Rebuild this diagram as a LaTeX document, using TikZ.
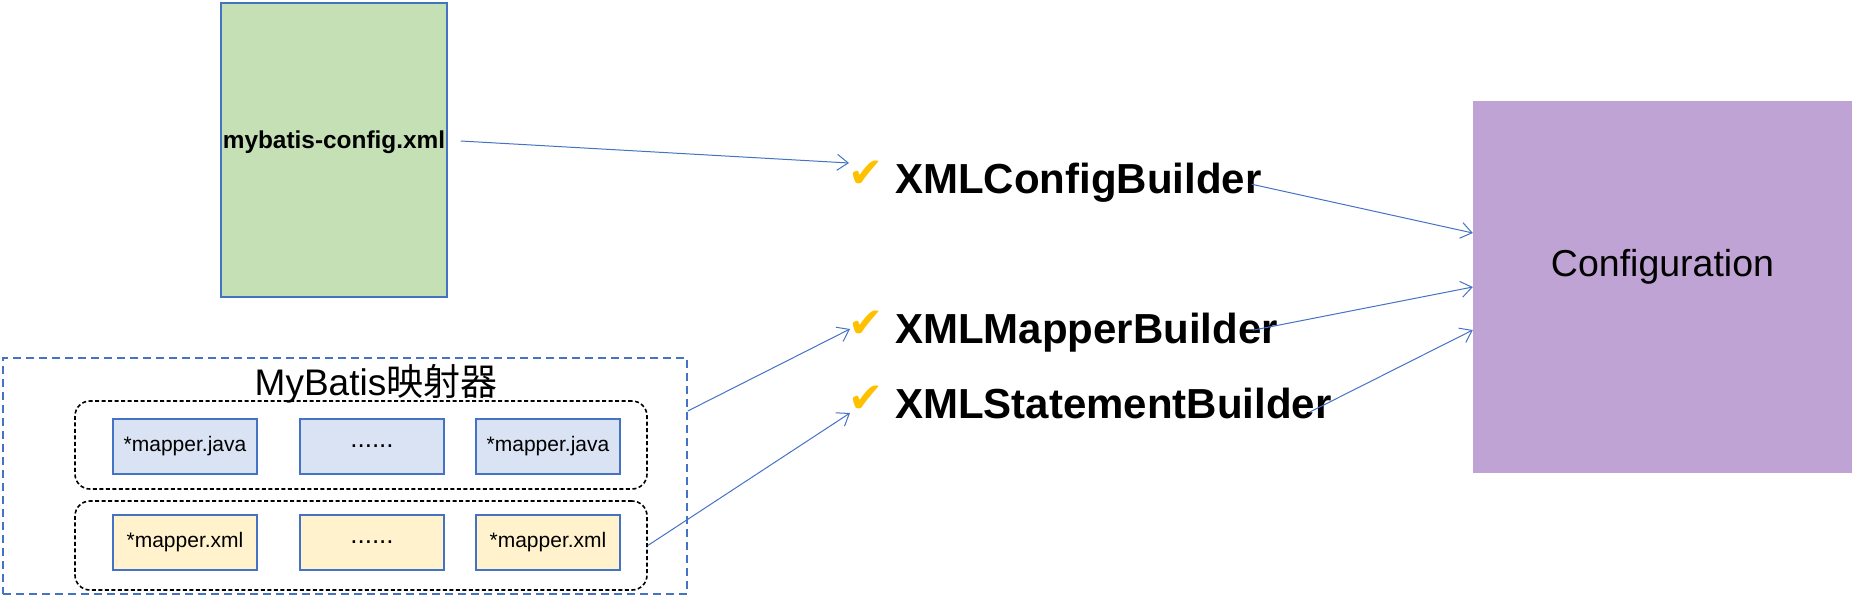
\documentclass[tikz,border=0pt]{standalone}
\usepackage{fontspec}
\setmainfont{Liberation Sans}
\newfontfamily\cjkfont{Noto Sans CJK SC}
\newfontfamily\symfont{DejaVu Sans}
\usepackage{xcolor}
\usepackage{tikz}
\usetikzlibrary{arrows.meta, positioning, fit, calc}
\definecolor{linkblue}{RGB}{68,114,196}
\definecolor{configgreen}{RGB}{197,224,180}
\definecolor{javablue}{RGB}{218,227,243}
\definecolor{xmlyellow}{RGB}{255,242,204}
\definecolor{confpurple}{RGB}{191,163,213}
\definecolor{checkgold}{RGB}{255,192,0}
\tikzset{
  filebox/.style={
    rectangle, draw=linkblue, line width=1.5pt, inner sep=0pt,
    minimum width=144pt, minimum height=55pt, font=\fontsize{21}{25}\selectfont
  },
  javafile/.style={filebox, fill=javablue},
  xmlfile/.style={filebox, fill=xmlyellow},
  dots/.style={font=\fontsize{26}{30}\selectfont},
  groupbox/.style={
    rectangle, rounded corners=15pt, draw=black, line width=1.6pt,
    dash pattern=on 4pt off 2.5pt, minimum width=572pt, minimum height=88pt
  },
  builder/.style={
    anchor=base west, inner sep=0pt, font=\fontsize{42}{50}\selectfont\bfseries
  },
  tick/.style={
    inner sep=0pt, text=checkgold, font=\symfont\fontsize{42}{48}\selectfont
  },
  link/.style={-{Straight Barb[length=11pt, width=16pt]}, line width=1pt, color=linkblue}
}
\begin{document}
\begin{tikzpicture}[x=1pt, y=-1pt]
  \useasboundingbox (0,0) rectangle (1852,595);

  % Config file
  \node[rectangle, draw=linkblue, line width=1.5pt, fill=configgreen,
    minimum width=226pt, minimum height=294pt, inner sep=0pt,
    font=\fontsize{24.4}{29}\selectfont\bfseries, text depth=20pt]
    (cfgfile) at (334,150) {mybatis-config.xml};

  % Configuration
  \node[rectangle, fill=confpurple, minimum width=379pt, minimum height=372pt,
    inner sep=0pt, font=\fontsize{37.5}{45}\selectfont,
    text height=27pt, text depth=49pt]
    (conf) at (1662.5,287) {Configuration};

  % Builders
  \node[tick] (ckConfig) at (866,174) {✔};
  \node[tick] (ckMapper) at (866,324) {✔};
  \node[tick] (ckStmt)   at (866,399) {✔};
  \node[builder] (bConfig) at (895,193) {XMLConfigBuilder};
  \node[builder] (bMapper) at (895,343) {XMLMapperBuilder};
  \node[builder] (bStmt)   at (895,418) {XMLStatementBuilder};

  % Mappers
  \node[rectangle, draw=linkblue, line width=1.5pt, dash pattern=on 8pt off 5pt,
    minimum width=684pt, minimum height=236pt, inner sep=0pt]
    (mappers) at (345,476) {};
  \node[anchor=base, inner sep=0pt, font=\fontsize{37}{44}\selectfont]
    (mapTitle) at (376,395) {MyBatis{\cjkfont 映射器}};
  \node[groupbox] (javaGroup) at (361,445) {};
  \node[groupbox, minimum height=89pt] (xmlGroup) at (361,545.5) {};

  \node[javafile] (java1) at (185,446.5) {*mapper.java};
  \node[javafile, dots] (java2) at (372,446.5) {......};
  \node[javafile] (java3) at (548,446.5) {*mapper.java};
  \node[xmlfile]  (xml1)  at (185,542.5) {*mapper.xml};
  \node[xmlfile, dots]  (xml2)  at (372,542.5) {......};
  \node[xmlfile]  (xml3)  at (548,542.5) {*mapper.xml};

  % Links
  \draw[link] ([xshift=13pt,yshift=9pt]cfgfile.east) -- ([xshift=-17pt,yshift=11pt]ckConfig.center);
  \draw[link] ([yshift=65pt]mappers.east) -- ([xshift=-16pt,yshift=-5pt]ckMapper.center);
  \draw[link] (xmlGroup.east) -- ([xshift=-16pt,yshift=-14pt]ckStmt.center);
  \draw[link] ([xshift=-10pt,yshift=-2pt]bConfig.east) -- ([yshift=54pt]conf.west);
  \draw[link] ([xshift=-25pt,yshift=2pt]bMapper.east) -- (conf.west);
  \draw[link] ([xshift=-22pt,yshift=-9pt]bStmt.east) -- ([yshift=-43pt]conf.west);
\end{tikzpicture}
\end{document}
